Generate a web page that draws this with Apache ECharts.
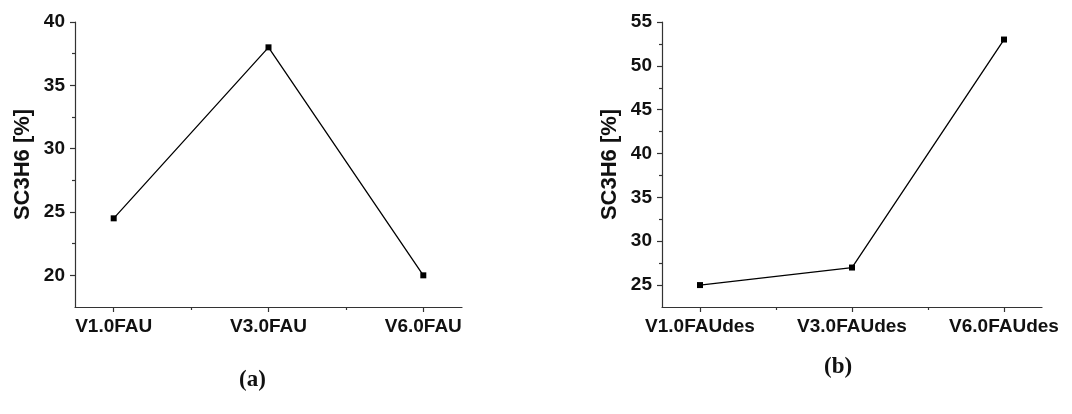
<!DOCTYPE html>
<html>
<head>
<meta charset="utf-8">
<script src="https://cdn.jsdelivr.net/npm/echarts@6/dist/echarts.min.js"></script>
<style>html,body{margin:0;padding:0;background:#fff;}#c{width:1072px;height:414px;}</style>
</head>
<body>
<div id="c"></div>
<script>
// Data
const categoriesA = ['V1.0FAU', 'V3.0FAU', 'V6.0FAU'];
const valuesA = [24.5, 38, 20];
const categoriesB = ['V1.0FAUdes', 'V3.0FAUdes', 'V6.0FAUdes'];
const valuesB = [25, 27, 53];
const yTicksA = [20, 25, 30, 35, 40];
const yMinorA = [22.5, 27.5, 32.5, 37.5];
const yTicksB = [25, 30, 35, 40, 45, 50, 55];
const yMinorB = [27.5, 32.5, 37.5, 42.5, 47.5, 52.5];
const xPos = [1, 2, 3];
const xMinor = [1.5, 2.5];
const yName = 'SC3H6 [%]';
const captions = ['(a)', '(b)'];

const chart = echarts.init(document.getElementById('c'), null, {renderer: 'canvas'});
const FONT = 'Liberation Sans, Arial, sans-serif';
const axisCol = '#333';

function xAxes(gi, cats) {
  return [{
    type: 'value', gridIndex: gi, min: 0.75, max: 3.25, position: 'bottom',
    axisLine: {show: true, lineStyle: {color: axisCol, width: 1.2}},
    splitLine: {show: false},
    axisTick: {show: true, customValues: xPos, length: 5, lineStyle: {color: axisCol, width: 1.2}},
    axisLabel: {show: true, customValues: xPos, margin: 10, color: '#111', fontFamily: FONT, fontWeight: 'bold', fontSize: 19,
      formatter: v => cats[Math.round(v) - 1] || ''}
  }, {
    type: 'value', gridIndex: gi, min: 0.75, max: 3.25, position: 'bottom',
    axisLine: {show: false}, splitLine: {show: false}, axisLabel: {show: false},
    axisTick: {show: true, customValues: xMinor, length: 3, lineStyle: {color: axisCol, width: 1.2}}
  }];
}
function yAxes(gi, min, max, ticks, minor) {
  return [{
    type: 'value', gridIndex: gi, min: min, max: max, position: 'left',
    name: yName, nameLocation: 'middle', nameRotate: 90, nameGap: 41,
    nameTextStyle: {fontFamily: FONT, fontWeight: 'bold', fontSize: 22, color: '#111'},
    axisLine: {show: true, lineStyle: {color: axisCol, width: 1.2}},
    splitLine: {show: false},
    axisTick: {show: true, customValues: ticks, length: 5, lineStyle: {color: axisCol, width: 1.2}},
    axisLabel: {show: true, customValues: ticks, margin: 10, color: '#111', fontFamily: FONT, fontWeight: 'bold', fontSize: 19}
  }, {
    type: 'value', gridIndex: gi, min: min, max: max, position: 'left', offset: 0,
    axisLine: {show: false}, splitLine: {show: false}, axisLabel: {show: false},
    axisTick: {show: true, customValues: minor, length: 3, lineStyle: {color: axisCol, width: 1.2}}
  }];
}
function series(gi, vals) {
  return {
    type: 'line', xAxisIndex: gi * 2, yAxisIndex: gi * 2,
    data: vals.map((v, i) => [xPos[i], v]),
    symbol: 'rect', symbolSize: 6, showSymbol: true,
    lineStyle: {color: '#000', width: 1.3},
    itemStyle: {color: '#000'},
    silent: true, animation: false
  };
}

chart.setOption({
  backgroundColor: '#fff',
  animation: false,
  grid: [
    {left: 75, top: 22, width: 387, height: 285},
    {left: 662, top: 22, width: 380, height: 285}
  ],
  xAxis: [...xAxes(0, categoriesA), ...xAxes(1, categoriesB)],
  yAxis: [...yAxes(0, 17.5, 40, yTicksA, yMinorA), ...yAxes(1, 22.5, 55, yTicksB, yMinorB)],
  series: [series(0, valuesA), series(1, valuesB)],
  graphic: [
    {type: 'text', left: 239, top: 369, style: {text: captions[0], font: 'bold 23px "Liberation Serif", serif', fill: '#111'}},
    {type: 'text', left: 824, top: 356, style: {text: captions[1], font: 'bold 23px "Liberation Serif", serif', fill: '#111'}}
  ]
});
</script>
</body>
</html>
